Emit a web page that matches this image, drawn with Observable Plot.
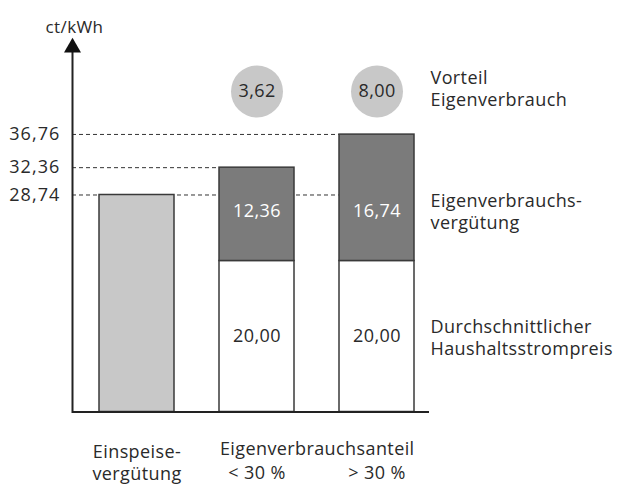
<!DOCTYPE html>
<html><head><meta charset="utf-8">
<script src="https://cdn.jsdelivr.net/npm/d3@7"></script>
<script src="https://cdn.jsdelivr.net/npm/@observablehq/plot@0.6"></script>
<style>body{margin:0;background:#fff}
svg text{letter-spacing:0.4px}
g[aria-label="number"] text, g[aria-label="y-axis tick label"] text{letter-spacing:1.1px}
g[aria-label="group label"] text{letter-spacing:0.8px}
</style>
</head><body><div id="chart"></div>
<script>
// ---- data ----
const categories = ["Einspeisevergütung", "< 30 %", "> 30 %"];
const categoryLabels = ["Einspeise-\nvergütung", "< 30 %", "> 30 %"];
const groupLabel = "Eigenverbrauchsanteil";
const feedIn = [28.74, 0, 0];
const householdPrice = [0, 20.00, 20.00];
const selfConsumption = [0, 12.36, 16.74];
const yTicks = [28.74, 32.36, 36.76];
const parts = ["Einspeisevergütung", "Haushaltsstrompreis", "Eigenverbrauchsvergütung"];
const partColors = ["#c8c8c8", "#ffffff", "#7b7b7b"];
const legendLabels = ["Vorteil\nEigenverbrauch", "Eigenverbrauchs-\nvergütung", "Durchschnittlicher\nHaushaltsstrompreis"];
const unit = "ct/kWh";

// annotation row levels (in y units)
const rowLevels = [42.45, 26.6, 10];
const legendLevels = [42.9, 26.6, 10];

const fmt = d3.format(".2f");
const fmtDE = v => fmt(v).replace(".", ",");

const rows = [];
categories.forEach((c, i) => {
  if (feedIn[i] > 0) rows.push({cat: c, part: parts[0], value: feedIn[i]});
  if (householdPrice[i] > 0) rows.push({cat: c, part: parts[1], value: householdPrice[i]});
  if (selfConsumption[i] > 0) rows.push({cat: c, part: parts[2], value: selfConsumption[i]});
});
const totals = categories.map((c, i) => feedIn[i] + householdPrice[i] + selfConsumption[i]);
const advantage = categories.map((c, i) => ({cat: c, value: totals[i] - totals[0]})).slice(1);
const inner = categories.map((c, i) => ({cat: c, hp: householdPrice[i], sc: selfConsumption[i]})).slice(1);

// dashed guide lines: from the axis to the bar nearest that value (feed-in line runs to last bar)
const guides = yTicks.map(t => {
  let idx = d3.minIndex(totals, v => Math.abs(v - t));
  if (idx === 0) idx = categories.length - 1;
  return {y: t, to: categories[idx]};
});

const xOpts = {domain: categories, paddingInner: 0.373, paddingOuter: 0.168, align: 0.64};
const W = 617, H = 487, mL = 72, mR = 188, mT = 45, mB = 75.5;
const xs = Plot.scale({x: {...xOpts, type: "band", range: [mL, W - mR]}});
const step = xs.step;

const guideMarks = guides.map(g =>
  Plot.ruleY([g.y], {stroke: "#333", strokeWidth: 1, strokeDasharray: "4,3",
    insetRight: (W - mR) - xs.apply(g.to)}));

const chart = Plot.plot({
  width: W, height: H,
  marginLeft: mL, marginRight: mR, marginTop: mT, marginBottom: mB,
  style: {fontFamily: "'Open Sans'", fontSize: "18px", color: "#2a2a2a", background: "#fff", overflow: "visible"},
  x: {...xOpts, type: "band", axis: null},
  y: {domain: [0, 48.54], ticks: yTicks, tickFormat: fmtDE, tickSize: 0, tickPadding: 12, label: null},
  color: {domain: parts, range: partColors},
  marks: [
    ...guideMarks,
    Plot.barY(rows, {x: "cat", y: "value", fill: "part", stroke: "#3a3a3a", strokeWidth: 1.5}),
    Plot.ruleY([0], {stroke: "#222", strokeWidth: 2}),
    Plot.frame({anchor: "left", stroke: "#222", strokeWidth: 2}),
    Plot.dot([unit], {frameAnchor: "top-left", symbol: "triangle", r: 6.3, fill: "#111", stroke: "none", dy: 2}),
    Plot.text([unit], {text: d => d, frameAnchor: "top-left", textAnchor: "middle", dy: -25, dx: 2, fontSize: 17}),
    // advantage circles
    Plot.dot(advantage, {x: "cat", y: () => rowLevels[0], r: 26, fill: "#c8c8c8"}),
    Plot.text(advantage, {x: "cat", y: () => rowLevels[0], text: d => fmtDE(d.value), fill: "#2a2a2a", ariaLabel: "number"}),
    // values inside bars
    Plot.text(inner, {x: "cat", y: () => rowLevels[1], text: d => fmtDE(d.sc), fill: "#fff", ariaLabel: "number"}),
    Plot.text(inner, {x: "cat", y: () => rowLevels[2], text: d => fmtDE(d.hp), fill: "#2a2a2a", ariaLabel: "number"}),
    // right-side legend
    Plot.text(legendLabels, {frameAnchor: "right", y: (d, i) => legendLevels[i], text: d => d, textAnchor: "start", dx: 1, lineHeight: 1.22}),
    // bottom category labels
    Plot.text(categories.slice(0, 1), {x: d => d, text: (d, i) => categoryLabels[i], frameAnchor: "bottom", lineAnchor: "top", dy: 30, lineHeight: 1.22}),
    Plot.text(categories.slice(1), {x: d => d, text: (d, i) => categoryLabels[i + 1], frameAnchor: "bottom", lineAnchor: "top", dy: 54}),
    Plot.text([groupLabel], {x: () => categories[1], text: d => d, frameAnchor: "bottom", lineAnchor: "top", dy: 30, dx: step / 2, ariaLabel: "group label"})
  ]
});
document.getElementById("chart").appendChild(chart);
</script>
</body></html>
